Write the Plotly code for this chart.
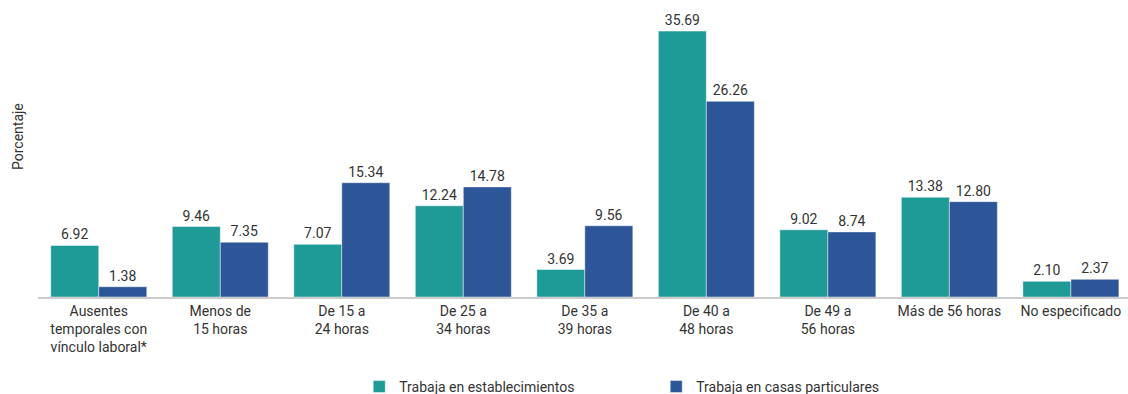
import plotly.graph_objects as go

categories = ["Ausentes<br>temporales con<br>vínculo laboral*", "Menos de<br>15 horas", "De 15 a<br>24 horas",
              "De 25 a<br>34 horas", "De 35 a<br>39 horas", "De 40 a<br>48 horas", "De 49 a<br>56 horas",
              "Más de 56 horas", "No especificado"]
establecimientos = [6.92, 9.46, 7.07, 12.24, 3.69, 35.69, 9.02, 13.38, 2.10]
casas = [1.38, 7.35, 15.34, 14.78, 9.56, 26.26, 8.74, 12.80, 2.37]
series_names = ["Trabaja en establecimientos", "Trabaja en casas particulares"]
colors = ["#1e9a97", "#2c5697"]

FONT = "Roboto, sans-serif"
FS = 14

fig = go.Figure()
for name, vals, col in zip(series_names, [establecimientos, casas], colors):
    fig.add_trace(go.Bar(
        x=list(range(len(categories))), y=vals, name=name,
        marker=dict(color=col, line=dict(color="rgba(255,255,255,0.45)", width=1)),
        text=[f"{v:.2f}" for v in vals], textposition="outside",
        textfont=dict(size=FS, color="#333333", family=FONT),
        cliponaxis=False,
    ))

fig.update_layout(
    width=1128, height=394,
    margin=dict(l=38, r=0, t=20, b=97, autoexpand=False),
    paper_bgcolor="white", plot_bgcolor="white",
    barmode="group", bargap=0.21, bargroupgap=0,
    font=dict(family=FONT, size=FS, color="#333333"),
    showlegend=True,
    legend=dict(orientation="h", x=0.2947, xanchor="left", xref="paper",
                y=(394 - 371) / 394, yanchor="top", yref="container",
                entrywidth=252, entrywidthmode="pixels",
                font=dict(size=FS, color="#333333", family=FONT), traceorder="normal"),
    xaxis=dict(tickmode="array", tickvals=list(range(len(categories))), ticktext=categories,
               range=[-0.5, 8.47], showline=True, linecolor="#cccccc", linewidth=2,
               showgrid=False, ticks="", tickfont=dict(size=FS, color="#333333")),
    yaxis=dict(range=[0, 37.18], showticklabels=False, showgrid=False, zeroline=False,
               showline=False, ticks=""),
    annotations=[dict(text="Porcentaje", x=(18 - 38) / 1090, y=(297 - 137) / 277,
                      xref="paper", yref="paper", xanchor="center", yanchor="middle",
                      showarrow=False, textangle=-90, font=dict(size=FS, color="#333333"))],
)

fig.write_html("out.html")
